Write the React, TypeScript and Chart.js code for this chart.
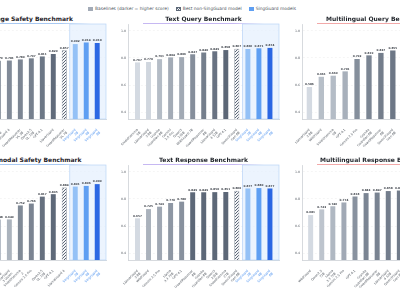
import React, { useEffect, useRef } from "react";
import { Chart, registerables } from "chart.js";

Chart.register(...registerables);

type Label = string | string[];

// value axis shared by every panel
const yTicks = [0.4, 0.6, 0.8, 1.0];
const yMin = 0.35;
const yMax = 1.05;

// Image Safety Benchmark
const imageSafetyModels: Label[] = [
  ["Qwen2.5-VL", "7B"], "LlamaGuard 4", ["GuardReasoner", "VL 3B"], ["Qwen2.5", "VL 72B"], "GPT-4.1",
  "LlavaGuard", ["GuardReasoner", "VL 7B"], ["SingGuard", "2B"], ["SingGuard", "4B"], ["SingGuard", "8B"],
];
const imageSafetyScores = [0.779, 0.781, 0.789, 0.797, 0.811, 0.829, 0.857, 0.902, 0.914, 0.91];

// Text Query Benchmark
const textQueryModels: Label[] = [
  ["ShieldGemma", "9B"], ["LlamaGuard", "3 8B"], ["Granite", "Guardian 8B"], ["Gemini", "2.5 Pro"], ["Qwen3", "235B"],
  "WildGuard 7B", ["GuardReasoner", "8B"], ["LlamaGuard", "4 12B"], "GPT-4.1", ["Qwen3Guard", "Gen 8B"],
  ["SingGuard", "2B"], ["SingGuard", "4B"], ["SingGuard", "8B"],
];
const textQueryScores = [0.767, 0.77, 0.791, 0.804, 0.806, 0.827, 0.84, 0.849, 0.858, 0.867, 0.866, 0.871, 0.874];

// Multilingual Query Benchmark
const multiQueryModels: Label[] = [
  ["LlamaGuard", "3 8B"], "WildGuard", ["ShieldGemma", "9B"], "GPT-4.1", "Gemini 2.5 Pro",
  ["Granite", "Guardian 8B"], ["GuardReasoner", "8B"], ["Qwen3Guard", "Gen 8B"],
];
const multiQueryScores = [0.586, 0.661, 0.669, 0.701, 0.792, 0.819, 0.837, 0.855];

// Multimodal Safety Benchmark
const multimodalModels: Label[] = [
  ["LlavaGuard", "7B"], ["LlamaGuard", "3 Vision"], ["ShieldGemma", "2"], "Gemini 2.5 Pro", ["Qwen2.5", "VL 72B"],
  "GPT-4.1", "LlamaGuard 4", ["SingGuard", "2B"], ["SingGuard", "4B"], ["SingGuard", "8B"],
];
const multimodalScores = [0.648, 0.649, 0.752, 0.766, 0.817, 0.835, 0.884, 0.891, 0.896, 0.909];

// Text Response Benchmark
const textResponseModels: Label[] = [
  ["LlamaGuard", "3 8B"], "WildGuard", "Gemini 2.5 Pro", ["Llama", "3.3 70B"], "GPT-4.1",
  ["GuardReasoner", "8B"], ["Granite", "Guardian 8B"], ["Qwen3", "235B"], ["ShieldGemma", "27B"],
  ["Qwen3Guard", "Gen 8B"], ["SingGuard", "2B"], ["SingGuard", "4B"], ["SingGuard", "8B"],
];
const textResponseScores = [0.657, 0.725, 0.743, 0.77, 0.78, 0.849, 0.849, 0.85, 0.851, 0.86, 0.877, 0.88, 0.877];

// Multilingual Response Benchmark
const multiResponseModels: Label[] = [
  "WildGuard", ["Qwen2.5", "72B"], ["Llama", "3.3 70B"], "Gemini 2.5 Pro", "GPT-4.1",
  ["Granite", "Guardian 8B"], ["GuardReasoner", "8B"], ["LlamaGuard", "4 12B"], ["Qwen3Guard", "Gen 8B"],
];
const multiResponseScores = [0.681, 0.723, 0.746, 0.774, 0.818, 0.843, 0.847, 0.858, 0.862];

const FONT = '"DejaVu Sans", sans-serif';
const SING_COLORS = ["#94c1f6", "#5f9ff2", "#2b67e3"];
const LIGHT = [212, 218, 226];
const DARK = [92, 103, 119];
const HATCH_INK = "#5d6878";

const PAD_L = 26;
const PAD_T = 4;
const PAD_R = 4;
const Y_W = 12;
const X_H = 34;

interface PanelSpec {
  title: string;
  models: Label[];
  scores: number[];
  best: number;
  singFrom: number;
  xMin: number;
  xMax: number;
  shade: [number, number];
  box: [number, number, number, number];
  accent: string;
}

const TOP = [24, 119];
const BOTTOM = [165, 260];
const COLS = [[-45, 106], [128, 279], [302, 453]];

const panels: PanelSpec[] = [
  { title: "Image Safety Benchmark", models: imageSafetyModels, scores: imageSafetyScores, best: 6, singFrom: 7,
    xMin: -3.95, xMax: 9.8, shade: [0.66, 0.835], box: [COLS[0][0], TOP[0], COLS[0][1], TOP[1]], accent: "#a9c9f2" },
  { title: "Text Query Benchmark", models: textQueryModels, scores: textQueryScores, best: 9, singFrom: 10,
    xMin: -0.86, xMax: 12.82, shade: [0.767, 0.858], box: [COLS[1][0], TOP[0], COLS[1][1], TOP[1]], accent: "#c6b8f2" },
  { title: "Multilingual Query Benchmark", models: multiQueryModels, scores: multiQueryScores, best: -1, singFrom: -1,
    xMin: -0.62, xMax: 12.05, shade: [0.586, 0.9], box: [COLS[2][0], TOP[0], COLS[2][1], TOP[1]], accent: "#f2a9a9" },
  { title: "Multimodal Safety Benchmark", models: multimodalModels, scores: multimodalScores, best: 6, singFrom: 7,
    xMin: -3.95, xMax: 9.8, shade: [0.55, 0.84], box: [COLS[0][0], BOTTOM[0], COLS[0][1], BOTTOM[1]], accent: "#a9c9f2" },
  { title: "Text Response Benchmark", models: textResponseModels, scores: textResponseScores, best: 9, singFrom: 10,
    xMin: -0.86, xMax: 12.82, shade: [0.657, 0.851], box: [COLS[1][0], BOTTOM[0], COLS[1][1], BOTTOM[1]], accent: "#c6b8f2" },
  { title: "Multilingual Response Benchmark", models: multiResponseModels, scores: multiResponseScores, best: -1, singFrom: -1,
    xMin: -0.78, xMax: 12.84, shade: [0.681, 0.9], box: [COLS[2][0], BOTTOM[0], COLS[2][1], BOTTOM[1]], accent: "#f2a9a9" },
];

function shade(v: number, [lo, hi]: [number, number]): string {
  const t = Math.min(1, Math.max(0, (v - lo) / (hi - lo)));
  const c = LIGHT.map((l, k) => Math.round(l + (DARK[k] - l) * t));
  return `rgb(${c[0]},${c[1]},${c[2]})`;
}

function makeHatch(ctx: CanvasRenderingContext2D): CanvasPattern | string {
  const tile = document.createElement("canvas");
  tile.width = 3;
  tile.height = 3;
  const t = tile.getContext("2d");
  if (!t) return HATCH_INK;
  t.fillStyle = "#f3f4f6";
  t.fillRect(0, 0, 3, 3);
  t.strokeStyle = HATCH_INK;
  t.lineWidth = 1;
  t.beginPath();
  t.moveTo(-1, 4);
  t.lineTo(4, -1);
  t.moveTo(-1, 1);
  t.lineTo(1, -1);
  t.moveTo(2, 4);
  t.lineTo(4, 2);
  t.stroke();
  return ctx.createPattern(tile, "repeat") || HATCH_INK;
}

// shaded band behind the SingGuard bars and score labels above every bar
const panelDecor = {
  id: "panelDecor",
  beforeDatasetsDraw(chart: any, _args: any, opts: any) {
    if (opts.singFrom < 0) return;
    const { ctx, chartArea: a, scales } = chart;
    const x0 = scales.x.getPixelForValue(opts.singFrom - 0.5);
    ctx.save();
    ctx.fillStyle = "rgba(228,239,253,0.7)";
    ctx.fillRect(x0, a.top, a.right - x0, a.bottom - a.top);
    ctx.strokeStyle = "rgba(180,208,245,0.9)";
    ctx.lineWidth = 0.7;
    ctx.strokeRect(x0, a.top, a.right - x0, a.bottom - a.top);
    ctx.restore();
  },
  afterDatasetsDraw(chart: any) {
    const { ctx } = chart;
    const meta = chart.getDatasetMeta(0);
    const data = chart.data.datasets[0].data;
    ctx.save();
    ctx.font = `bold 2.8px ${FONT}`;
    ctx.fillStyle = "#3a3f47";
    ctx.textAlign = "center";
    ctx.textBaseline = "bottom";
    meta.data.forEach((bar: any, i: number) => {
      ctx.fillText(data[i].y.toFixed(3), bar.x, bar.y - 1);
    });
    ctx.restore();
  },
};

function BarPanel({ spec }: { spec: PanelSpec }) {
  const ref = useRef<HTMLCanvasElement>(null);
  const [L, T, R, B] = spec.box;
  const left = L - PAD_L - Y_W;
  const top = T - PAD_T;
  const width = R - L + PAD_L + Y_W + PAD_R;
  const height = B - T + PAD_T + X_H;

  useEffect(() => {
    const canvas = ref.current;
    if (!canvas) return;
    const ctx = canvas.getContext("2d");
    if (!ctx) return;
    const hatch = makeHatch(ctx);
    const isSing = (i: number) => spec.singFrom >= 0 && i >= spec.singFrom;
    const colors = spec.scores.map((v, i) =>
      i === spec.best ? hatch : isSing(i) ? SING_COLORS[i - spec.singFrom] : shade(v, spec.shade)
    );
    const chart = new Chart(canvas, {
      type: "bar",
      data: {
        datasets: [
          {
            data: spec.scores.map((v, i) => ({ x: i, y: v })),
            backgroundColor: colors as any,
            borderColor: spec.scores.map((_, i) => (i === spec.best ? HATCH_INK : "rgba(0,0,0,0)")),
            borderWidth: spec.scores.map((_, i) => (i === spec.best ? 0.6 : 0)),
            categoryPercentage: 0.5,
            barPercentage: 0.9,
          },
        ],
      },
      options: {
        responsive: false,
        animation: false,
        devicePixelRatio: 1,
        layout: { padding: { left: PAD_L, top: PAD_T, right: PAD_R, bottom: 0 } },
        plugins: {
          legend: { display: false },
          tooltip: { enabled: false },
          panelDecor: { singFrom: spec.singFrom },
        } as any,
        scales: {
          x: {
            type: "linear",
            offset: false,
            min: spec.xMin,
            max: spec.xMax,
            grid: { display: false, offset: false },
            border: { display: true, color: "#cdd1d6", width: 0.8 },
            afterBuildTicks: (axis: any) => {
              axis.ticks = spec.models.map((_, i) => ({ value: i }));
            },
            afterFit: (axis: any) => {
              axis.height = X_H;
              axis.paddingLeft = 0;
              axis.paddingRight = 0;
            },
            ticks: {
              autoSkip: false,
              minRotation: 45,
              maxRotation: 45,
              padding: 1,
              font: { family: FONT, size: 3.2 },
              color: (c: any) => (isSing(c.index) ? "#4f93ef" : "#555b63"),
              callback: (value: any) => spec.models[Math.round(Number(value))] as any,
            },
          },
          y: {
            min: yMin,
            max: yMax,
            afterBuildTicks: (axis: any) => {
              axis.ticks = yTicks.map((v) => ({ value: v }));
            },
            afterFit: (axis: any) => {
              axis.width = Y_W;
              axis.paddingTop = 0;
              axis.paddingBottom = 0;
            },
            grid: { color: "rgba(0,0,0,0.08)", lineWidth: 0.5, drawTicks: false },
            border: { display: true, color: "#cdd1d6", width: 0.8, dash: [2, 2] },
            ticks: {
              padding: 2,
              font: { family: FONT, size: 3.2 },
              color: "#555b63",
              callback: (v: any) => Number(v).toFixed(1),
            },
          },
        },
      },
      plugins: [panelDecor as any],
    });
    return () => chart.destroy();
  }, [spec]);

  const cx = (L + R) / 2;
  return (
    <>
      <div
        style={{
          position: "absolute",
          left: L + 15,
          top: T - 0.8,
          width: R - L - 30,
          height: 0.9,
          background: `linear-gradient(90deg, ${spec.accent}, ${spec.accent} 75%, ${spec.accent}00)`,
        }}
      />
      <div
        style={{
          position: "absolute",
          left: cx - 100,
          width: 200,
          top: T - 9,
          textAlign: "center",
          font: `bold 6px ${FONT}`,
          lineHeight: "8px",
          color: "#1f2329",
          whiteSpace: "nowrap",
        }}
      >
        {spec.title}
      </div>
      <canvas ref={ref} width={width} height={height} style={{ position: "absolute", left, top, width, height }} />
    </>
  );
}

function Legend() {
  const item = { display: "flex", alignItems: "center", marginRight: 7 } as const;
  const sw = { width: 5, height: 3.4, marginRight: 2, boxSizing: "border-box" } as const;
  return (
    <div
      style={{
        position: "absolute",
        left: 88,
        top: 6,
        display: "flex",
        alignItems: "center",
        font: `4.4px ${FONT}`,
        lineHeight: "6px",
        color: "#50565e",
        whiteSpace: "nowrap",
      }}
    >
      <div style={item}>
        <div style={{ ...sw, background: "#a3abb7" }} />
        <span>Baselines (darker = higher score)</span>
      </div>
      <div style={item}>
        <div
          style={{
            ...sw,
            border: `0.5px solid ${HATCH_INK}`,
            background: `repeating-linear-gradient(135deg, ${HATCH_INK} 0 0.8px, #f3f4f6 0.8px 1.8px)`,
          }}
        />
        <span>Best non-SingGuard model</span>
      </div>
      <div style={item}>
        <div style={{ ...sw, background: "#5f9ff2" }} />
        <span>SingGuard models</span>
      </div>
    </div>
  );
}

export default function App() {
  return (
    <div
      style={{
        position: "fixed",
        left: 0,
        top: 0,
        width: 400,
        height: 300,
        overflow: "hidden",
        background: "#ffffff",
      }}
    >
      <Legend />
      {panels.map((p) => (
        <BarPanel key={p.title} spec={p} />
      ))}
    </div>
  );
}
